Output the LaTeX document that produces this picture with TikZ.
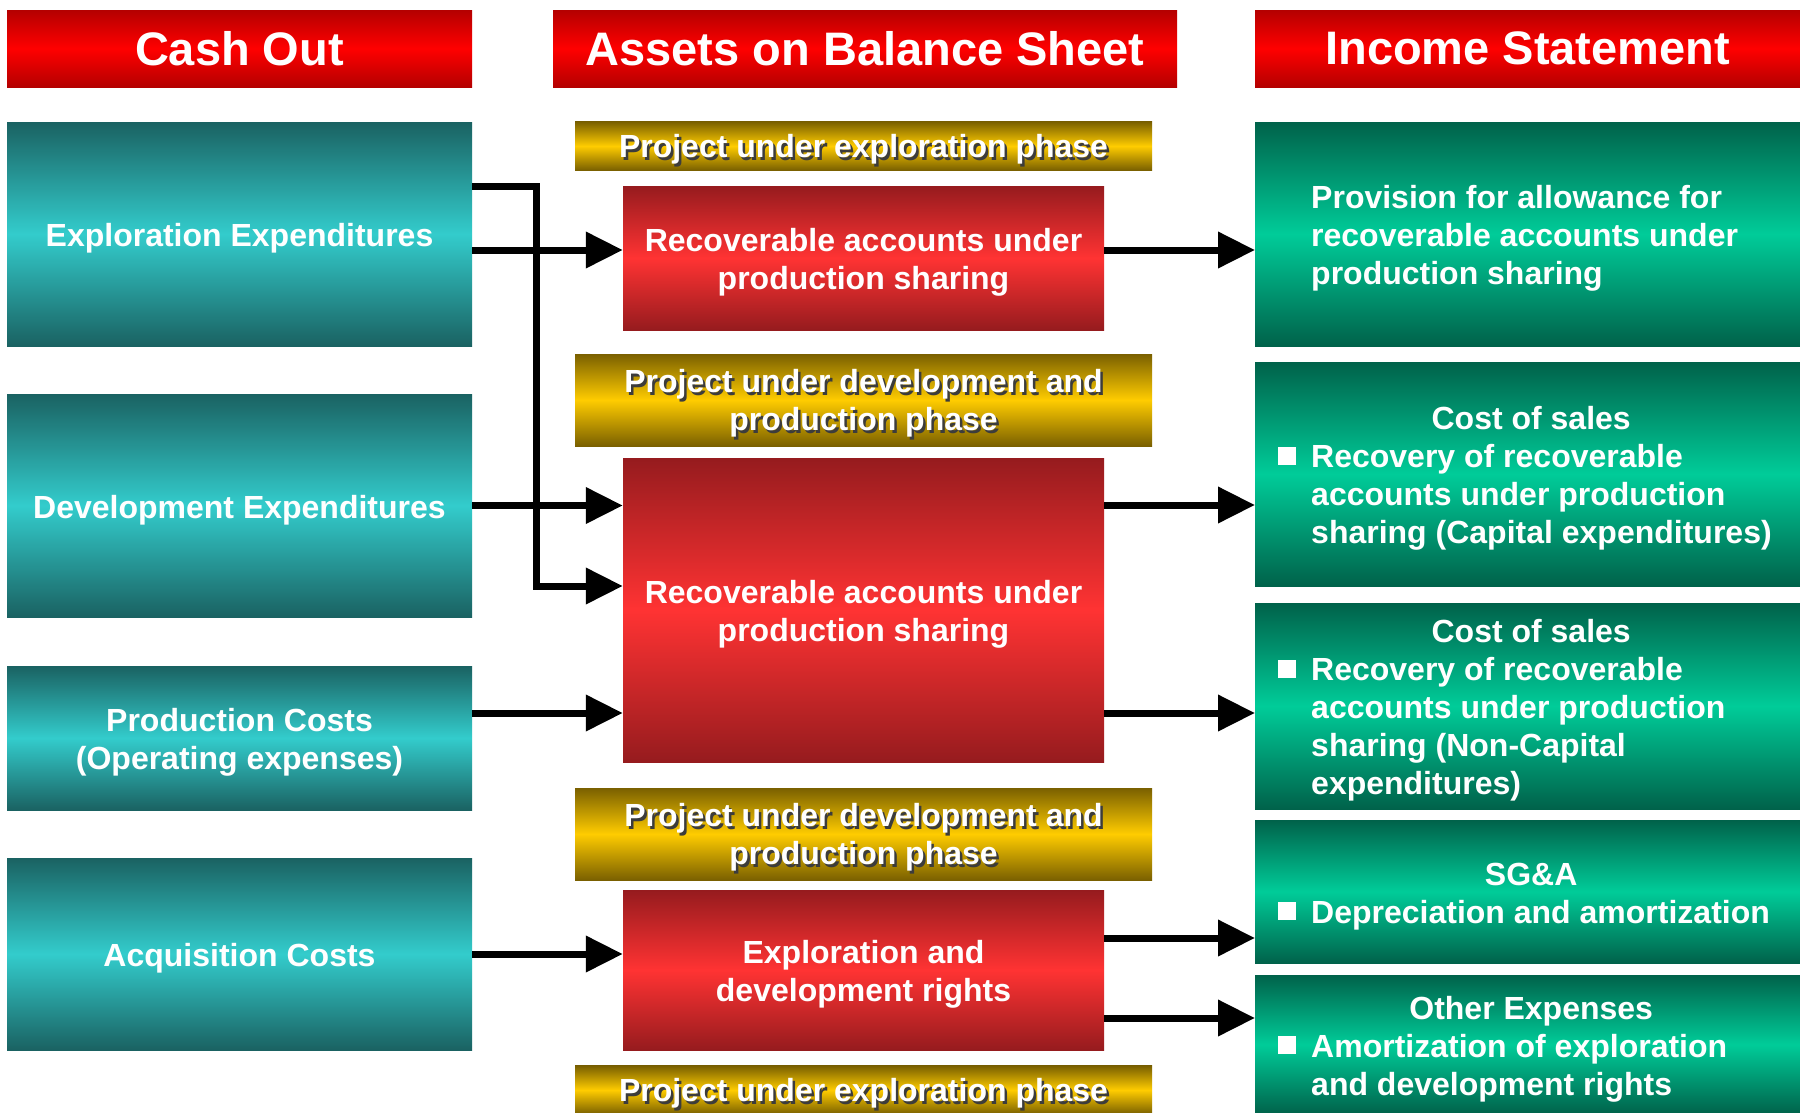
\documentclass[tikz,border=0pt]{standalone}
\usepackage{fontspec}
\setmainfont{Liberation Sans}
\usetikzlibrary{arrows.meta}

\definecolor{hdrdark}{RGB}{180,0,0}
\definecolor{hdrlight}{RGB}{255,0,0}
\definecolor{cashdark}{RGB}{26,98,98}
\definecolor{cashlight}{RGB}{51,204,204}
\definecolor{assetdark}{RGB}{150,27,30}
\definecolor{assetlight}{RGB}{255,51,51}
\definecolor{phasedark}{RGB}{122,96,0}
\definecolor{phaselight}{RGB}{255,204,0}
\definecolor{incdark}{RGB}{0,98,74}
\definecolor{inclight}{RGB}{0,204,153}
\definecolor{shadowgray}{RGB}{60,60,60}

% white text with a dark drop shadow (phase labels)
\newcommand{\shadowed}[1]{\makebox[0pt][l]{\hspace{2.5pt}\raisebox{-2.5pt}{\textcolor{shadowgray}{#1}}}#1}
% square bullet hanging left of the text margin
\newcommand{\sqbullet}{\leavevmode\llap{\raisebox{3pt}{\rule{18pt}{18pt}}\hspace{15pt}}}

\begin{document}
\begin{tikzpicture}[x=1pt, y=-1pt,
    boxfont/.style={
        font=\bfseries\fontsize{32pt}{38pt}\selectfont,
        execute at begin node={\rule{0pt}{32.5pt}}
    },
    header/.style={
        rectangle,
        inner sep=0pt,
        minimum height=77pt,
        text=white,
        font=\bfseries\fontsize{47pt}{56pt}\selectfont,
        top color=hdrdark, bottom color=hdrdark, middle color=hdrlight
    },
    cash/.style={
        rectangle,
        boxfont,
        text=white,
        align=flush center,
        text width=443pt,
        minimum width=465pt,
        top color=cashdark, bottom color=cashdark, middle color=cashlight
    },
    phase/.style={
        rectangle,
        boxfont,
        text=white,
        align=flush center,
        text width=555pt,
        minimum width=577pt,
        top color=phasedark, bottom color=phasedark, middle color=phaselight
    },
    asset/.style={
        rectangle,
        boxfont,
        text=white,
        align=flush center,
        text width=459pt,
        minimum width=481pt,
        top color=assetdark, bottom color=assetdark, middle color=assetlight
    },
    income/.style={
        rectangle,
        anchor=west,
        boxfont,
        text=white,
        align=flush left,
        text width=470pt,
        inner xsep=56pt,
        inner ysep=2pt,
        top color=incdark, bottom color=incdark, middle color=inclight
    },
    arrow/.style={->, >={Triangle[length=37pt,width=35pt]}, line width=7pt}]

    \path[use as bounding box, fill=white] (0,0) rectangle (1800,1112);

    % Column headers
    \node[header, minimum width=465pt] (cashhdr) at (239.5,48.5) {Cash Out};
    \node[header, minimum width=624pt] (assethdr) at (865,48.5) {Assets on Balance Sheet};
    \node[header, minimum width=545pt, anchor=west] (inchdr) at (1255,48.5) {Income Statement};

    % Cash out
    \node[cash, minimum height=224pt] (expl) at (239.5,234) {Exploration Expenditures};
    \node[cash, minimum height=223pt] (dev) at (239.5,505.5) {Development Expenditures};
    \node[cash, minimum height=144pt] (prod) at (239.5,738) {Production Costs\\(Operating expenses)};
    \node[cash, minimum height=192pt] (acq) at (239.5,954) {Acquisition Costs};

    % Assets on balance sheet
    \node[phase, minimum height=48pt] (phase1) at (863.5,146) {\shadowed{Project under exploration phase}};
    \node[asset, minimum height=144pt] (rec1) at (863.5,258) {Recoverable accounts under\\production sharing};
    \node[phase, minimum height=92pt] (phase2) at (863.5,400) {\shadowed{Project under development and}\\\shadowed{production phase}};
    \node[asset, minimum height=304pt] (rec2) at (863.5,610) {Recoverable accounts under\\production sharing};
    \node[phase, minimum height=92pt] (phase3) at (863.5,834) {\shadowed{Project under development and}\\\shadowed{production phase}};
    \node[asset, minimum height=160pt] (rights) at (863.5,970) {Exploration and\\development rights};
    \node[phase, minimum height=48pt] (phase4) at (863.5,1090) {\shadowed{Project under exploration phase}};

    % Income statement
    \node[income, minimum height=224pt] (prov) at (1255,234) {Provision for allowance for\\recoverable accounts under\\production sharing};
    \node[income, minimum height=224pt] (capex) at (1255,474) {\makebox[440pt]{Cost of sales}\\\sqbullet Recovery of recoverable\\accounts under production\\sharing (Capital expenditures)};
    \node[income, minimum height=206pt] (opex) at (1255,706) {\makebox[440pt]{Cost of sales}\\\sqbullet Recovery of recoverable\\accounts under production\\sharing (Non-Capital\\expenditures)};
    \node[income, minimum height=143pt] (sga) at (1255,891.5) {\makebox[440pt]{SG\&A}\\\sqbullet Depreciation and amortization};
    \node[income, minimum height=139pt] (other) at (1255,1044.5) {\makebox[440pt]{Other Expenses}\\\sqbullet Amortization of exploration\\and development rights};

    % Cash out to balance sheet
    \coordinate (junction) at (536,586);
    \draw[arrow] ([yshift=48pt]expl.east) -| (junction) -- (junction -| rec2.west);
    \draw[arrow] ([yshift=-16pt]expl.east) -- ([yshift=-16pt]expl.east -| rec1.west);
    \draw[arrow] (dev.east) -- (dev.east -| rec2.west);
    \draw[arrow] ([yshift=25pt]prod.east) -- ([yshift=25pt]prod.east -| rec2.west);
    \draw[arrow] (acq.east) -- (acq.east -| rights.west);

    % Balance sheet to income statement
    \draw[arrow] ([yshift=8pt]rec1.east) -- ([yshift=8pt]rec1.east -| prov.west);
    \draw[arrow] ([yshift=105pt]rec2.east) -- ([yshift=105pt]rec2.east -| capex.west);
    \draw[arrow] ([yshift=-103pt]rec2.east) -- ([yshift=-103pt]rec2.east -| opex.west);
    \draw[arrow] ([yshift=32pt]rights.east) -- ([yshift=32pt]rights.east -| sga.west);
    \draw[arrow] ([yshift=-48pt]rights.east) -- ([yshift=-48pt]rights.east -| other.west);
\end{tikzpicture}
\end{document}
